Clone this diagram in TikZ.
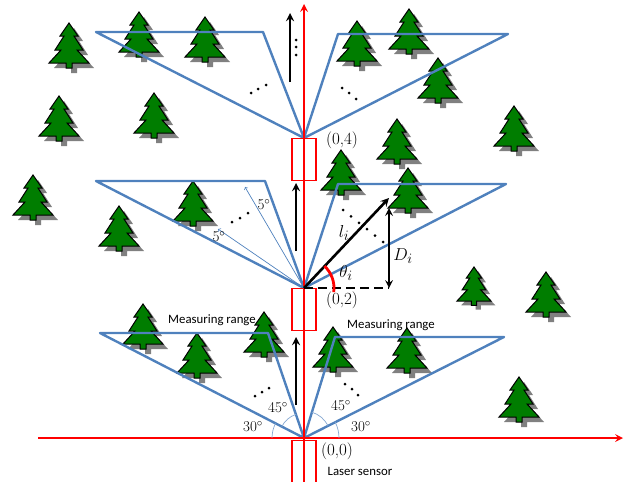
\documentclass[tikz,border=0pt]{standalone}
\usepackage{fontspec}
\newfontfamily\captionfont{Carlito}
\usetikzlibrary{arrows}

\definecolor{beamblue}{RGB}{79,129,189}
\definecolor{pinegreen}{RGB}{0,125,0}

\tikzstyle{axis} = [red, line width=2.4pt, ->, >=stealth]
\tikzstyle{sensor} = [rectangle, draw=red, line width=1.4pt, minimum width=24pt, minimum height=42pt, anchor=north]
\tikzstyle{beam} = [beamblue, line width=2.4pt, line join=round]
\tikzstyle{ray} = [beamblue, line width=0.7pt, -to]
\tikzstyle{arrow} = [line width=2.6pt, ->, >=stealth]
\tikzstyle{twoway} = [line width=2.4pt, <->, >=stealth]
\tikzstyle{anglearc} = [beamblue!70, line width=0.7pt]
\tikzstyle{coord} = [font=\fontsize{17}{18}\selectfont, inner sep=0pt]
\tikzstyle{deg} = [font=\fontsize{15}{16}\selectfont, inner sep=0pt]
\tikzstyle{sym} = [font=\fontsize{19}{20}\selectfont, inner sep=0pt]
\tikzstyle{caption} = [font=\captionfont\fontsize{12.8}{14}\selectfont, inner sep=0pt]
\tikzstyle{tree} = [fill=pinegreen, draw=black, line width=1pt, line join=miter]
\tikzstyle{treeshadow} = [fill=black!50]

% one pine, apex at (0,0), y grows downwards
\def\pineoutline{(0,0) -- (9,13) -- (5,13) -- (14,27) -- (8,27) -- (20,40) -- (3,40) -- (3,45)
  -- (-3,45) -- (-3,40) -- (-20,40) -- (-8,27) -- (-14,27) -- (-5,13) -- (-9,13) -- cycle}
\newcommand{\pine}[3][1]{%
  \begin{scope}[shift={(#2,#3)}, scale=#1]
    \fill[treeshadow, shift={(5,5)}] \pineoutline;
    \filldraw[tree] \pineoutline;
  \end{scope}}

\begin{document}
\begin{tikzpicture}[x=1pt, y=-1pt]
\useasboundingbox (0,0) rectangle (627,482);

% forest
\foreach \tx/\ty in {69/23, 139/12, 205/17, 59/96, 154/93, 357/21, 409/9, 438/58,
    514/106, 397/119, 341/150, 408/168, 546/272, 33/175, 119/206, 193/181,
    143/304, 264/312, 197/333, 333/327, 407/328, 519/377}
  \pine{\tx}{\ty};
\pine[0.85]{474}{267}

% sensor positions
\coordinate (s0) at (304,438);
\coordinate (s2) at (304,288);
\coordinate (s4) at (304,138);

% measuring ranges
\draw[beam] (s0) -- (100,333) -- (268,333) -- cycle;
\draw[beam] (s0) -- (335,337) -- (504,337) -- cycle;
\draw[beam] (s2) -- (96,181) -- (265,181) -- cycle;
\draw[beam] (s2) -- (338,184) -- (506,184) -- cycle;
\draw[beam] (s4) -- (96,32) -- (263,32) -- cycle;
\draw[beam] (s4) -- (338,34) -- (508,34) -- cycle;

% axes
\coordinate (ybot) at (304,484);
\coordinate (ytop) at (304,4);
\coordinate (xleft) at (38,438);
\coordinate (xright) at (623,438);
\draw[axis] (xleft) -- (xright);
\draw[axis] (ybot) -- (ytop);

% laser sensor at each stop
\node (box0) [sensor, minimum height=46pt] at (304,440) {};
\node (box2) [sensor] at (304,288) {};
\node (box4) [sensor] at (304,138) {};

% angles at the first stop
\draw[anglearc] (s0) ++(-32,0) arc (180:207:32);
\draw[anglearc] (s0) ++(207:25) arc (207:251:25);
\draw[anglearc] (s0) ++(0:35) arc (360:333:35);
\draw[anglearc] (s0) ++(333:27) arc (333:287:27);

% single rays, 5 degree steps
\coordinate (r1) at (245,187);
\coordinate (r2) at (218,229);
\draw[ray] (s2) -- (r1);
\draw[ray] (s2) -- (r2);

% moving direction
\coordinate (m0a) at (296,405); \coordinate (m0b) at (296,337);
\coordinate (m2a) at (296,251); \coordinate (m2b) at (296,183);
\coordinate (m4a) at (290,82);  \coordinate (m4b) at (290,13);
\draw[arrow] (m0a) -- (m0b);
\draw[arrow] (m2a) -- (m2b);
\draw[arrow] (m4a) -- (m4b);

% measured point
\coordinate (hit) at (389,198);
\coordinate (foot) at (389,288);
\coordinate (top) at (389,208);
\draw[arrow] (s2) -- (hit);
\draw[line width=2.4pt, dash pattern=on 9pt off 5pt] (s2) -- (foot);
\draw[twoway] (foot) -- (top);
\draw[red, line width=2.8pt] (s2) ++(8:30) arc (8:-47:30);

% dots
\foreach \dx/\dy in {251/93, 258/89, 266/85, 342/88, 349/93, 356/99,
    232/222, 240/218, 248/213, 255/396, 262/392, 269/388, 345/384, 352/389, 358/395,
    296/40, 296/47, 296/55}
  \fill (\dx,\dy) circle (1.5);
\foreach \k in {0,...,5}
  \fill ({343+8*\k},{210+6.4*\k}) circle (1.5);

% labels
\node (c4) [coord] at (342,140) {(0,4)};
\node (c2) [coord] at (342,300) {(0,2)};
\node (c0) [coord] at (337,451) {(0,0)};
\node (laser) [caption] at (360,471) {Laser sensor};
\node (range1) [caption] at (212,320) {Measuring range};
\node (range2) [caption] at (391,325) {Measuring range};
\node (theta) [sym] at (346,273) {$\theta_i$};
\node (li) [sym] at (344,233) {$l_i$};
\node (Di) [sym] at (403,256) {$D_i$};
\node (d5a) [deg] at (264,205) {5$^\circ$};
\node (d5b) [deg] at (219,237) {5$^\circ$};
\node (a45l) [deg] at (278,408) {45$^\circ$};
\node (a30l) [deg] at (253,427) {30$^\circ$};
\node (a45r) [deg] at (341,406) {45$^\circ$};
\node (a30r) [deg] at (361,427) {30$^\circ$};

\end{tikzpicture}
\end{document}
